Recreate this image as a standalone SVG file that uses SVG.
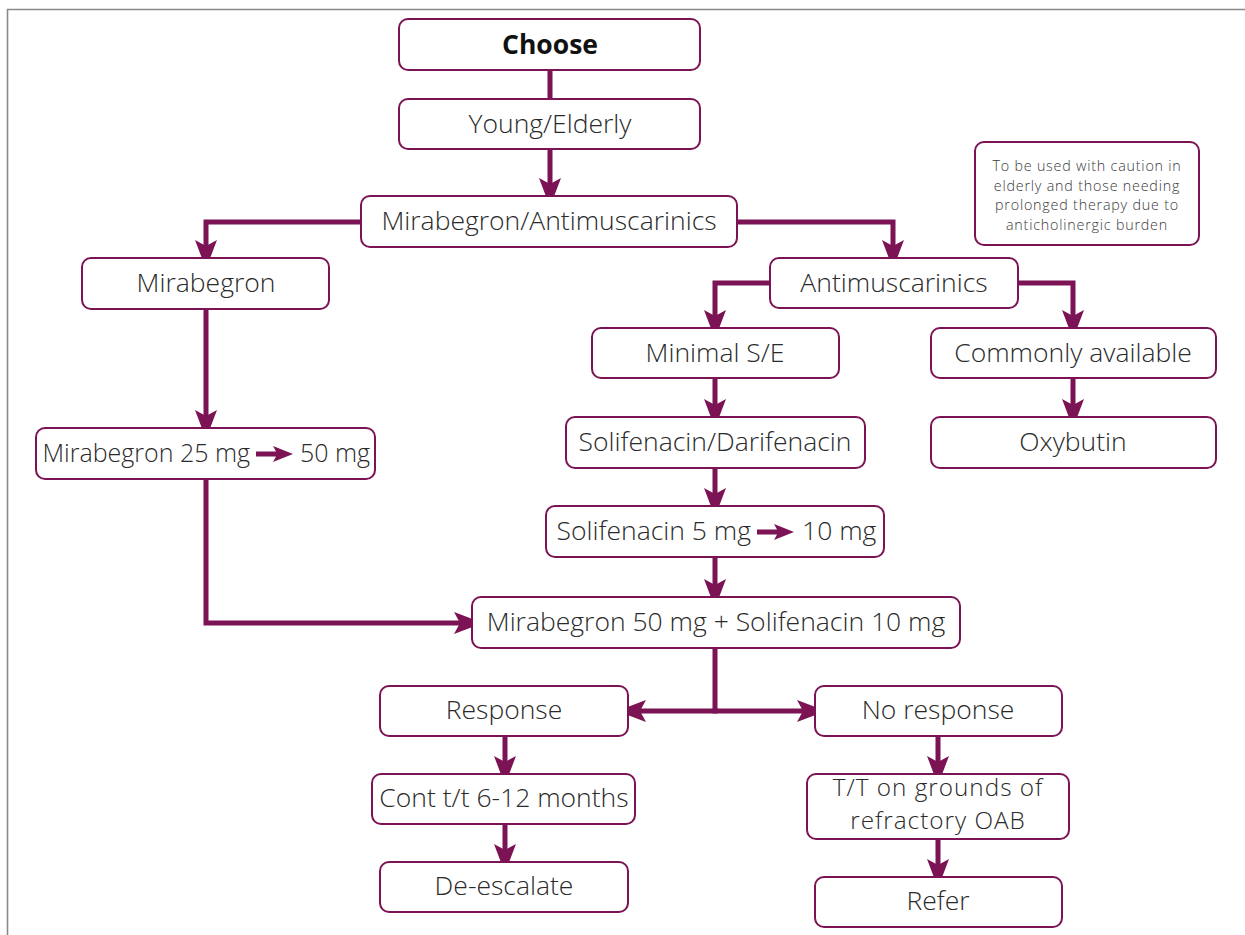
<svg xmlns="http://www.w3.org/2000/svg" width="1245" height="935" viewBox="0 0 1245 935">
<style>
.box{fill:#fff;stroke:#7b1354;stroke-width:2}
.t{font-family:"Open Sans","Liberation Sans",sans-serif;font-weight:300;font-size:26.5px;fill:#2a2a2a;text-anchor:middle}
.b{font-weight:700;fill:#111}
.n{font-size:14.3px;letter-spacing:0.8px;fill:#3a3a3a}
.m{font-size:25px}
.w{font-size:24.3px;letter-spacing:1px}
.c{fill:none;stroke:#7b1354;stroke-width:5}
.s{text-anchor:start}
.e{text-anchor:end}
</style>
<defs>
<marker id="ah" viewBox="0 -11 29 22" refX="18" refY="0" markerWidth="29" markerHeight="22" markerUnits="userSpaceOnUse" orient="auto">
<path d="M0,-11 L29,0 L0,11 L6,0 Z" fill="#7b1354"/>
</marker>
<path id="ia" d="M0,-2.6 H20 L17,-8 L37,0 L17,8 L20,2.6 H0 Z" fill="#7b1354"/>
</defs>
<path d="M7.5,935 V9.5 H1245" fill="none" stroke="#8a8a8a" stroke-width="1.6"/>
<g id="connectors">
<path class="c" d="M550,70 V99"/>
<path class="c" d="M550,149 V196" marker-end="url(#ah)"/>
<path class="c" d="M361,222 H206 V258" marker-end="url(#ah)"/>
<path class="c" d="M737,222 H893 V258" marker-end="url(#ah)"/>
<path class="c" d="M770,283 H715 V328" marker-end="url(#ah)"/>
<path class="c" d="M1018,283 H1073 V328" marker-end="url(#ah)"/>
<path class="c" d="M715,378 V417" marker-end="url(#ah)"/>
<path class="c" d="M715,468 V506" marker-end="url(#ah)"/>
<path class="c" d="M715,557 V597" marker-end="url(#ah)"/>
<path class="c" d="M1073,378 V417" marker-end="url(#ah)"/>
<path class="c" d="M206,309 V428" marker-end="url(#ah)"/>
<path class="c" d="M206,479 V623 H472" marker-end="url(#ah)"/>
<path class="c" d="M715,648 V711"/>
<path class="c" d="M717.5,711 H628" marker-end="url(#ah)"/>
<path class="c" d="M712.5,711 H815" marker-end="url(#ah)"/>
<path class="c" d="M505,736 V774" marker-end="url(#ah)"/>
<path class="c" d="M505,824 V862" marker-end="url(#ah)"/>
<path class="c" d="M938,736 V774" marker-end="url(#ah)"/>
<path class="c" d="M938,839 V877" marker-end="url(#ah)"/>
</g>
<g id="choose"><rect class="box" x="399" y="19" width="301" height="51" rx="9"/><text class="t b" x="550" y="54">Choose</text></g>
<g id="young-elderly"><rect class="box" x="399" y="99" width="301" height="50" rx="9"/><text class="t" x="550" y="133">Young/Elderly</text></g>
<g id="mira-anti"><rect class="box" x="361" y="196" width="376" height="51" rx="9"/><text class="t" x="549" y="230">Mirabegron/Antimuscarinics</text></g>
<g id="note"><rect class="box" x="975" y="142" width="224" height="103" rx="9"/>
<text class="t n" x="1087" y="171">To be used with caution in</text>
<text class="t n" x="1087" y="190.5">elderly and those needing</text>
<text class="t n" x="1087" y="210">prolonged therapy due to</text>
<text class="t n" x="1087" y="229.5">anticholinergic burden</text></g>
<g id="mirabegron"><rect class="box" x="82" y="258" width="247" height="51" rx="9"/><text class="t" x="206" y="292">Mirabegron</text></g>
<g id="antimuscarinics"><rect class="box" x="770" y="258" width="248" height="50" rx="9"/><text class="t" x="894" y="292">Antimuscarinics</text></g>
<g id="minimal-se"><rect class="box" x="592" y="328" width="247" height="50" rx="9"/><text class="t" x="715" y="362">Minimal S/E</text></g>
<g id="commonly"><rect class="box" x="931" y="328" width="285" height="50" rx="9"/><text class="t" x="1073" y="362">Commonly available</text></g>
<g id="soli-dari"><rect class="box" x="566" y="417" width="299" height="51" rx="9"/><text class="t" x="715" y="451">Solifenacin/Darifenacin</text></g>
<g id="oxybutin"><rect class="box" x="931" y="417" width="285" height="51" rx="9"/><text class="t" x="1073" y="451">Oxybutin</text></g>
<g id="mira-dose"><rect class="box" x="36" y="428" width="339" height="51" rx="9"/><text class="t m e" x="250" y="462">Mirabegron 25 mg</text><use href="#ia" x="256" y="454"/><text class="t m s" x="300" y="462">50 mg</text></g>
<g id="soli-dose"><rect class="box" x="546" y="506" width="338" height="51" rx="9"/><text class="t e" x="751" y="540">Solifenacin 5 mg</text><use href="#ia" x="757" y="532"/><text class="t s" x="802" y="540">10 mg</text></g>
<g id="combo"><rect class="box" x="472" y="597" width="488" height="51" rx="9"/><text class="t" x="716" y="631">Mirabegron 50 mg + Solifenacin 10 mg</text></g>
<g id="response"><rect class="box" x="380" y="686" width="248" height="50" rx="9"/><text class="t" x="504" y="719">Response</text></g>
<g id="no-response"><rect class="box" x="815" y="686" width="247" height="50" rx="9"/><text class="t" x="938" y="719">No response</text></g>
<g id="cont"><rect class="box" x="372" y="774" width="263" height="50" rx="9"/><text class="t" x="504" y="807">Cont t/t 6-12 months</text></g>
<g id="tt"><rect class="box" x="807" y="774" width="262" height="65" rx="9"/><text class="t w" x="938" y="795.5">T/T on grounds of</text><text class="t w" x="938" y="829">refractory OAB</text></g>
<g id="deescalate"><rect class="box" x="380" y="862" width="248" height="50" rx="9"/><text class="t" x="504" y="895">De-escalate</text></g>
<g id="refer"><rect class="box" x="815" y="877" width="247" height="50" rx="9"/><text class="t" x="938" y="910">Refer</text></g>
</svg>
